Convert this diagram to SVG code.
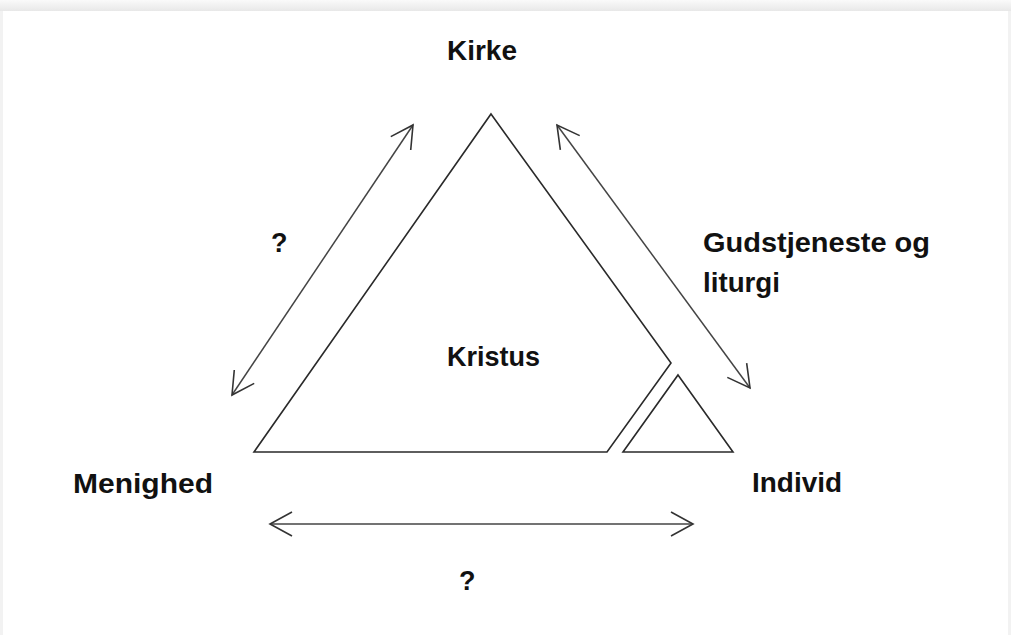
<svg xmlns="http://www.w3.org/2000/svg" width="1011" height="635" viewBox="0 0 1011 635">
<defs>
<linearGradient id="topg" x1="0" y1="0" x2="0" y2="1">
<stop offset="0" stop-color="#fafafa"/>
<stop offset="1" stop-color="#e8e8e8"/>
</linearGradient>
<marker id="arr" markerUnits="userSpaceOnUse" viewBox="-25 -14 28 28" markerWidth="28" markerHeight="28" refX="0" refY="0" orient="auto-start-reverse">
<path d="M-22,-12 L0,0 L-22,12" fill="none" stroke="#333" stroke-width="1.6"/>
</marker>
<style>
.shape{fill:none;stroke:#2a2a2a;stroke-width:1.6;stroke-linejoin:miter}
.conn{fill:none;stroke:#444;stroke-width:1.5}
.lbl{font-family:"Liberation Sans",Arial,sans-serif;font-weight:bold;font-size:27px;fill:#111}
</style>
</defs>
<rect x="0" y="0" width="1011" height="635" fill="#f2f2f2"/>
<rect x="0" y="0" width="1011" height="11" fill="url(#topg)"/>
<rect x="3" y="11" width="1005" height="624" fill="#ffffff"/>

<g id="kristus">
<polygon class="shape" points="491,114 671,363 607,452 254,452"/>
<text class="lbl" x="447" y="366" textLength="93" lengthAdjust="spacingAndGlyphs">Kristus</text>
</g>
<g id="individ-triangle">
<polygon class="shape" points="678,375 733,452 623,452"/>
</g>
<g id="kirke">
<text class="lbl" x="447" y="60" textLength="70" lengthAdjust="spacingAndGlyphs">Kirke</text>
</g>
<g id="menighed">
<text class="lbl" x="73" y="493" textLength="140" lengthAdjust="spacingAndGlyphs">Menighed</text>
</g>
<g id="individ">
<text class="lbl" x="752" y="492" textLength="90" lengthAdjust="spacingAndGlyphs">Individ</text>
</g>

<g id="connectors">
<line class="conn" x1="413" y1="125" x2="232" y2="395" marker-start="url(#arr)" marker-end="url(#arr)"/>
<line class="conn" x1="557" y1="125" x2="750" y2="388" marker-start="url(#arr)" marker-end="url(#arr)"/>
<line class="conn" x1="270" y1="524" x2="693" y2="524" marker-start="url(#arr)" marker-end="url(#arr)"/>
<text class="lbl" x="271" y="252">?</text>
<text class="lbl" x="459" y="590">?</text>
<text class="lbl" x="703" y="252" textLength="227" lengthAdjust="spacingAndGlyphs">Gudstjeneste og</text>
<text class="lbl" x="703" y="292" textLength="77" lengthAdjust="spacingAndGlyphs">liturgi</text>
</g>
</svg>
